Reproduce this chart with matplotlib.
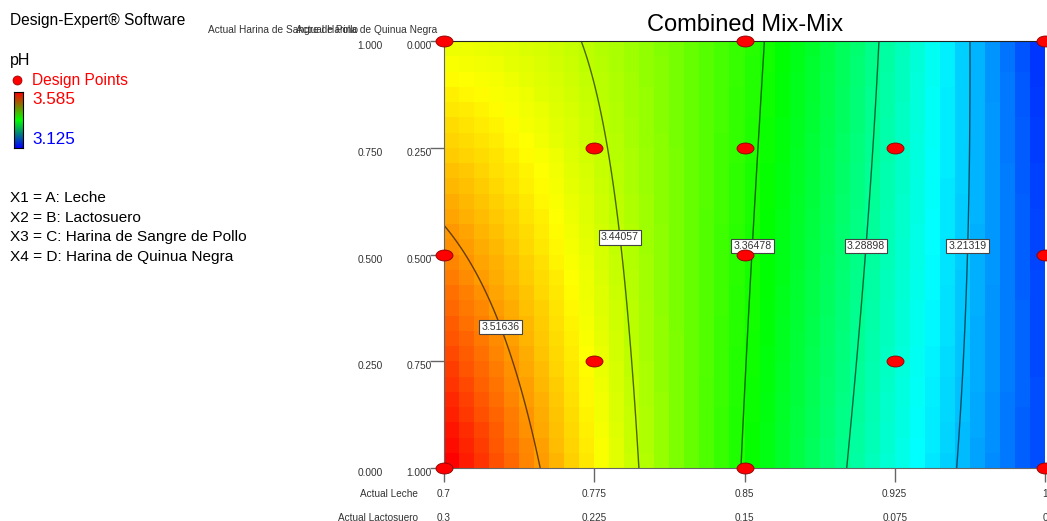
import numpy as np
import matplotlib
matplotlib.use("Agg")
import matplotlib.pyplot as plt
from matplotlib.colors import LinearSegmentedColormap, Normalize
from matplotlib.markers import MarkerStyle
from matplotlib.path import Path
from matplotlib.transforms import Affine2D
from matplotlib.lines import Line2D

plt.rcParams['font.family'] = ['Liberation Sans', 'DejaVu Sans']

# ejes: Leche (0.7-1.0) / Lactosuero, Harina de Sangre de Pollo / Quinua Negra
leche_ticks = [0.7, 0.775, 0.85, 0.925, 1.0]
leche_labels = ['0.7', '0.775', '0.85', '0.925', '1']
lacto_labels = ['0.3', '0.225', '0.15', '0.075', '0']
sangre_ticks = [0.0, 0.25, 0.5, 0.75, 1.0]
sangre_labels = ['0.000', '0.250', '0.500', '0.750', '1.000']
quinua_labels = ['1.000', '0.750', '0.500', '0.250', '0.000']

# puntos de diseño
pts_leche = [0.7, 0.85, 1.0, 0.775, 0.85, 0.925, 0.7, 0.85, 1.0, 0.775, 0.925, 0.7, 0.85, 1.0]
pts_sangre = [1.0, 1.0, 1.0, 0.75, 0.75, 0.75, 0.5, 0.5, 0.5, 0.25, 0.25, 0.0, 0.0, 0.0]

# modelo de pH estimado de la gráfica: filas = potencia de u, columnas = potencia de v
# u = (Leche - 0.7) / 0.3, v = Harina de Sangre de Pollo
ph_coef = [[3.5926, -0.1371, 0.0052],
           [-0.4836, 0.4730, -0.0089],
           [0.0455, -0.3365, -0.0099]]

contour_levels = [3.21319, 3.28898, 3.36478, 3.44057, 3.51636]
label_rows = [0.52, 0.52, 0.52, 0.54, 0.33]   # altura (Sangre) de cada etiqueta
ph_min, ph_max = 3.125, 3.585


def ph_model(leche, sangre):
    u = (leche - 0.7) / 0.3
    v = sangre
    z = np.zeros_like(u, dtype=float)
    for i, row in enumerate(ph_coef):
        for j, c in enumerate(row):
            z += c * u**i * v**j
    return z


cmap = LinearSegmentedColormap.from_list(
    'de', ['#0000ff', '#00ffff', '#00ff00', '#ffff00', '#ff0000'])
norm = Normalize(ph_min, ph_max)

fig = plt.figure(figsize=(10.47, 5.21), dpi=100)
ax = fig.add_axes([444 / 1047, 53 / 521, 601 / 1047, 427 / 521])

# superficie en celdas (como Design-Expert)
xe = np.linspace(0.7, 1.0, 41)
ye = np.linspace(0.0, 1.0, 29)
xc = (xe[:-1] + xe[1:]) / 2
yc = (ye[:-1] + ye[1:]) / 2
XC, YC = np.meshgrid(xc, yc)
ax.pcolormesh(xe, ye, ph_model(XC, YC), cmap=cmap, norm=norm, shading='flat')

# curvas de nivel
xf = np.linspace(0.7, 1.0, 300)
yf = np.linspace(0.0, 1.0, 300)
XF, YF = np.meshgrid(xf, yf)
ZF = ph_model(XF, YF)
line_cols = [tuple(np.array(cmap(norm(l))[:3]) * 0.4) for l in contour_levels]
ax.contour(XF, YF, ZF, levels=contour_levels, colors=line_cols, linewidths=1.0)

for lev, vrow in zip(contour_levels, label_rows):
    row = ph_model(xf, np.full_like(xf, vrow))
    xl = np.interp(lev, row[::-1], xf[::-1])
    ax.text(xl, vrow, f'{lev:.5f}', fontsize=7.6, ha='center', va='center', color='#333333',
            zorder=6, bbox=dict(facecolor='white', edgecolor='#444444', boxstyle='square,pad=0.22', lw=0.8))

# puntos de diseño (elipses rojas)
ell = MarkerStyle(Path.unit_circle().transformed(Affine2D().scale(1.55, 1.0)))
ax.scatter(pts_leche, pts_sangre, marker=ell, s=150, c='#ff0000', edgecolors='#880000',
           linewidths=0.6, zorder=7, clip_on=False)

ax.set_xlim(0.7, 1.0)
ax.set_ylim(0.0, 1.0)
ax.set_xticks(leche_ticks)
ax.set_yticks(sangre_ticks)
ax.set_xticklabels([])
ax.set_yticklabels([])
ax.tick_params(direction='out', length=10, width=1, color='#666666')
for side in ['left', 'bottom']:
    ax.spines[side].set_color('#666666')
ax.spines['top'].set_color('#222222')
ax.spines['right'].set_visible(False)

tc = '#333333'
xt = ax.get_xaxis_transform()
for x, l1, l2 in zip(leche_ticks, leche_labels, lacto_labels):
    ax.text(x, -0.06, l1, transform=xt, ha='center', va='center', fontsize=7.2, color=tc, clip_on=False)
    ax.text(x, -0.117, l2, transform=xt, ha='center', va='center', fontsize=7.2, color=tc, clip_on=False)
ax.text(-0.043, -0.06, 'Actual Leche', transform=ax.transAxes, ha='right', va='center',
        fontsize=7.2, color=tc)
ax.text(-0.043, -0.117, 'Actual Lactosuero', transform=ax.transAxes, ha='right', va='center',
        fontsize=7.2, color=tc)

yt = ax.get_yaxis_transform()
for y, l1, l2 in zip(sangre_ticks, sangre_labels, quinua_labels):
    ax.text(-0.123, y - 0.012, l1, transform=yt, ha='center', va='center', fontsize=7.3, color=tc)
    ax.text(-0.041, y - 0.012, l2, transform=yt, ha='center', va='center', fontsize=7.3, color=tc)

fig.text(358 / 1047, 1 - 30 / 521, 'Actual Harina de Sangre de Pollo', ha='right', va='center',
         fontsize=7.3, color=tc)
fig.text(437 / 1047, 1 - 30 / 521, 'Actual Harina de Quinua Negra', ha='right', va='center',
         fontsize=7.3, color=tc)

fig.text(745 / 1047, 1 - 25 / 521, 'Combined Mix-Mix', ha='center', va='center', fontsize=17)

# panel izquierdo
fig.text(10 / 1047, 1 - 20 / 521, 'Design-Expert® Software', ha='left', va='center', fontsize=11.2)
fig.text(10 / 1047, 1 - 60 / 521, 'pH', ha='left', va='center', fontsize=11.5)
fig.text(32 / 1047, 1 - 80 / 521, 'Design Points', ha='left', va='center', fontsize=11.2, color='#ff0000')
fig.add_artist(Line2D([17 / 1047], [1 - 80 / 521], transform=fig.transFigure, marker='o',
                      markersize=6.5, color='#ff0000', markeredgecolor='#880000',
                      markeredgewidth=0.5, linestyle='none'))
fig.text(32 / 1047, 1 - 100 / 521, f'{ph_max:.3f}', ha='left', va='center', fontsize=12.3, color='#ff0000')
fig.text(32 / 1047, 1 - 139 / 521, f'{ph_min:.3f}', ha='left', va='center', fontsize=12.3, color='#0000ff')

cax = fig.add_axes([14 / 1047, 1 - 148 / 521, 9 / 1047, 56 / 521])
bar_cmap = LinearSegmentedColormap.from_list('rgb', ['#ff0000', '#00ff00', '#0000ff'])
cax.imshow(np.linspace(0, 1, 100).reshape(-1, 1), cmap=bar_cmap, aspect='auto')
cax.set_xticks([])
cax.set_yticks([])

eqs = ['X1 = A: Leche', 'X2 = B: Lactosuero', 'X3 = C: Harina de Sangre de Pollo',
       'X4 = D: Harina de Quinua Negra']
for k, s in enumerate(eqs):
    fig.text(10 / 1047, 1 - (198 + 19.7 * k) / 521, s, ha='left', va='center', fontsize=11.1)

fig.savefig('out.png', dpi=100)
